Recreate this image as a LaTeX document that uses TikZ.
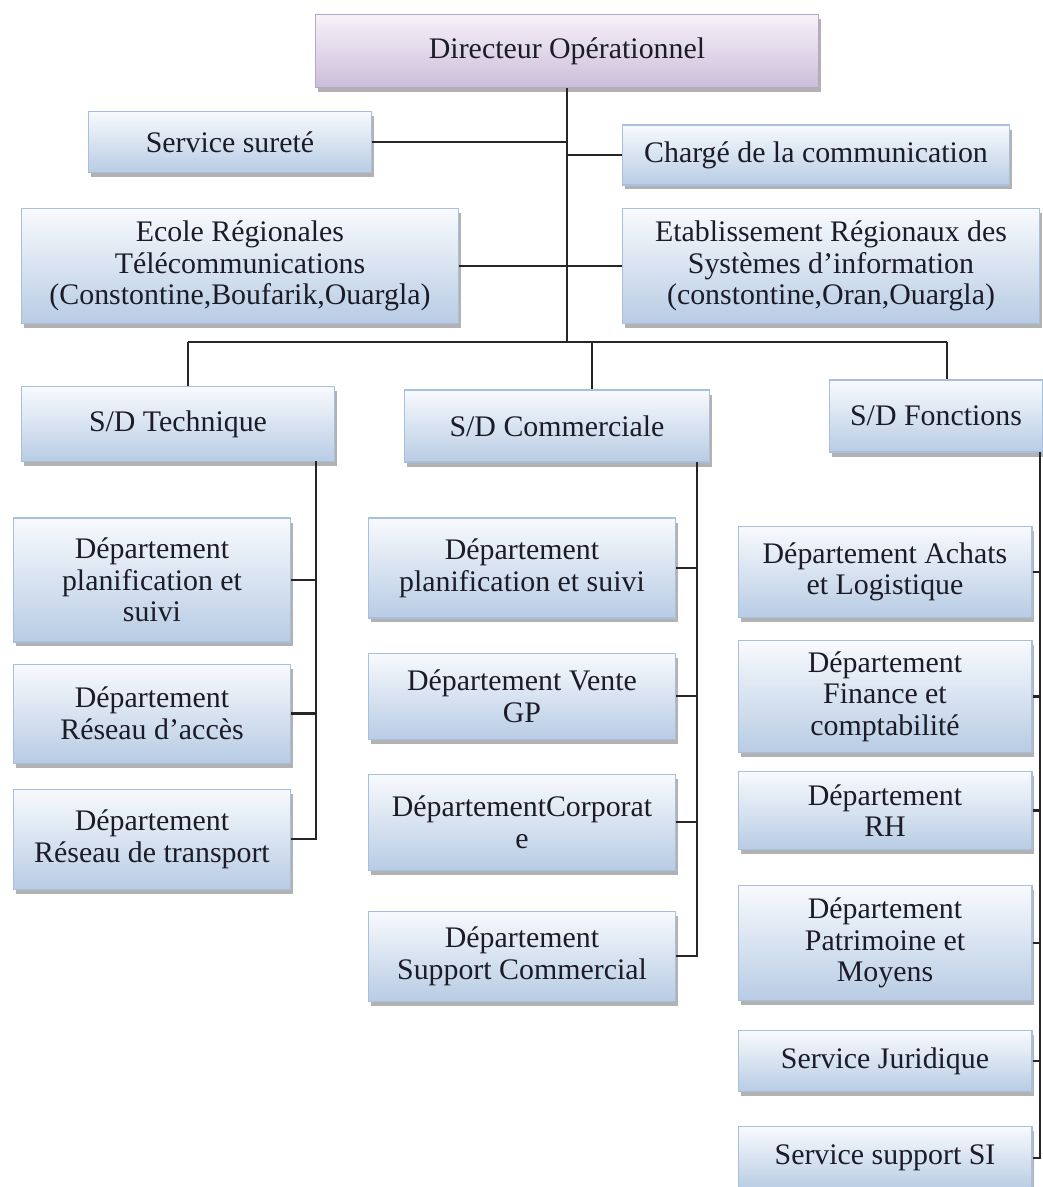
\documentclass[tikz,border=0pt]{standalone}
\usepackage{fontspec}
\setmainfont{Liberation Serif}
\usepackage{xcolor}
\usepackage{tikz}
\usetikzlibrary{positioning, shadows, calc}

\definecolor{boxtop}{HTML}{F8FAFD}
\definecolor{boxbot}{HTML}{B8CCE4}
\definecolor{boxline}{HTML}{A9C0DD}
\definecolor{dirtop}{HTML}{F7F2F9}
\definecolor{dirbot}{HTML}{CBBDD9}
\definecolor{dirline}{HTML}{B7A6CB}
\definecolor{txtcol}{HTML}{1C1C28}

\begin{document}
\begin{tikzpicture}[
    x=0.02cm, y=-0.02cm,
    every node/.style={align=center, font=\fontsize{17}{18}\selectfont, text=txtcol},
    unitbox/.style={rectangle, draw=boxline, line width=0.6pt, inner sep=0pt,
        top color=boxtop, bottom color=boxbot,
        drop shadow={shadow xshift=0.05cm, shadow yshift=-0.09cm, fill=black!60, opacity=0.5}},
    headbox/.style={unitbox, draw=dirline, top color=dirtop, bottom color=dirbot},
    link/.style={line width=1.5pt, draw=black!85}
]
    \useasboundingbox (0,0) rectangle (1043,1187);

    % direction
    \node[headbox, minimum width=10.06cm, minimum height=1.46cm] (dir) at (567,51) {Directeur Opérationnel};
    \node[unitbox, minimum width=5.66cm, minimum height=1.22cm] (surete) at (230,142) {Service sureté};
    \node[unitbox, minimum width=7.76cm, minimum height=1.2cm] (charge) at (816,155) {Chargé de la communication};
    \node[unitbox, minimum width=8.74cm, minimum height=2.3cm] (ecole) at (240,266) {Ecole Régionales \\ Télécommunications \\ (Constontine,Boufarik,Ouargla)};
    \node[unitbox, minimum width=8.34cm, minimum height=2.3cm] (etab) at (831,266) {Etablissement Régionaux des \\ Systèmes d’information \\ (constontine,Oran,Ouargla)};

    % sous-directions
    \node[unitbox, minimum width=6.28cm, minimum height=1.5cm] (tech) at (178,424) {S/D Technique};
    \node[unitbox, minimum width=6.1cm, minimum height=1.44cm] (com) at (557,426) {S/D Commerciale};
    \node[unitbox, minimum width=4.26cm, minimum height=1.44cm] (fonc) at (936,416) {S/D Fonctions};

    % S/D Technique
    \node[unitbox, minimum width=5.54cm, minimum height=2.48cm] (tplan) at (152,580) {Département \\ planification et \\ suivi};
    \node[unitbox, minimum width=5.54cm, minimum height=1.98cm, below=0.42cm of tplan] (tacces) {Département \\ Réseau d’accès};
    \node[unitbox, minimum width=5.54cm, minimum height=2cm, below=0.5cm of tacces] (ttrans) {Département \\ Réseau de transport};

    % S/D Commerciale
    \node[unitbox, minimum width=6.14cm, minimum height=2cm] (cplan) at (522,568) {Département \\ planification et suivi};
    \node[unitbox, minimum width=6.14cm, minimum height=1.72cm, below=0.68cm of cplan] (cvente) {Département Vente \\ GP};
    \node[unitbox, minimum width=6.14cm, minimum height=1.92cm, below=0.68cm of cvente] (ccorp) {DépartementCorporat \\ e};
    \node[unitbox, minimum width=6.14cm, minimum height=1.8cm, below=0.8cm of ccorp] (csupport) {Département \\ Support Commercial};

    % S/D Fonctions
    \node[unitbox, minimum width=5.88cm, minimum height=1.82cm] (fachats) at (885,572) {Département Achats \\ et Logistique};
    \node[unitbox, minimum width=5.88cm, minimum height=2.24cm, below=0.44cm of fachats] (ffinance) {Département \\ Finance et \\ comptabilité};
    \node[unitbox, minimum width=5.88cm, minimum height=1.56cm, below=0.36cm of ffinance] (frh) {Département \\ RH};
    \node[unitbox, minimum width=5.88cm, minimum height=2.3cm, below=0.7cm of frh] (fpatri) {Département \\ Patrimoine et \\ Moyens};
    \node[unitbox, minimum width=5.88cm, minimum height=1.22cm, below=0.58cm of fpatri] (fjur) {Service Juridique};
    \node[unitbox, minimum width=5.88cm, minimum height=1.26cm, below=0.68cm of fjur] (fsupport) {Service support SI};

    % liaisons
    \coordinate (bus) at (567,342);
    \coordinate (bt) at (188,342);
    \coordinate (bc) at (592,342);
    \coordinate (bf) at (947,342);
    \coordinate (tbr) at (316,461);
    \coordinate (cbr) at (697,462);
    \coordinate (fbr) at (1040,452);

    \draw[link] (dir) -- (bus);
    \foreach \n in {surete, charge, ecole, etab}
        \draw[link] (\n) -- (\n -| dir);
    \draw[link] (bt) -- (bf);
    \draw[link] (bt) -- (bt |- tech.north);
    \draw[link] (bc) -- (bc |- com.north);
    \draw[link] (bf) -- (bf |- fonc.north);

    \draw[link] (tbr) |- (ttrans);
    \foreach \n in {tplan, tacces}
        \draw[link] (\n) -- (\n -| tbr);
    \draw[link] (cbr) |- (csupport);
    \foreach \n in {cplan, cvente, ccorp}
        \draw[link] (\n) -- (\n -| cbr);
    \draw[link] (fbr) |- (fsupport);
    \foreach \n in {fachats, ffinance, frh, fpatri, fjur}
        \draw[link] (\n) -- (\n -| fbr);
\end{tikzpicture}
\end{document}
